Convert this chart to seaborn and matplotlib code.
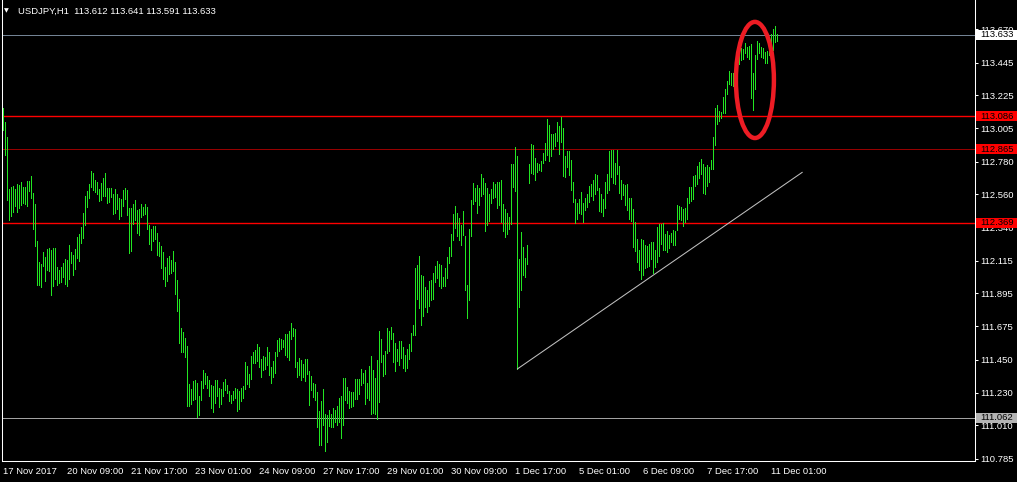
import numpy as np
import pandas as pd
import matplotlib
matplotlib.use("Agg")
import matplotlib.pyplot as plt
import matplotlib.transforms as mtransforms
from matplotlib.patches import Ellipse, Rectangle
import seaborn as sns

# ---------------------------------------------------------------- data
symbol = "USDJPY,H1"
last_ohlc = [113.612, 113.641, 113.591, 113.633]
first_bar_time = "2017-11-17 01:00"
last_bar_time = "2017-12-11 04:00"

bar_high = [
    113.140, 113.047, 112.946, 112.597, 112.610, 112.617, 112.597, 112.630, 112.624, 112.644,
    112.610, 112.610, 112.650, 112.650, 112.684, 112.570, 112.496, 112.247, 112.107, 112.093,
    112.174, 112.140, 112.194, 112.201, 112.187, 112.201, 112.201, 112.073, 112.053, 112.073,
    112.100, 112.127, 112.120, 112.221, 112.174, 112.153, 112.194, 112.274, 112.294, 112.341,
    112.436, 112.550, 112.583, 112.630, 112.717, 112.704, 112.657, 112.644, 112.597, 112.637,
    112.670, 112.704, 112.603, 112.603, 112.603, 112.563, 112.597, 112.563, 112.536, 112.529,
    112.590, 112.603, 112.590, 112.469, 112.469, 112.496, 112.523, 112.456, 112.463, 112.496,
    112.476, 112.496, 112.476, 112.354, 112.328, 112.348, 112.348, 112.301, 112.241, 112.214,
    112.174, 112.073, 112.134, 112.147, 112.120, 112.180, 112.107, 111.986, 111.858, 111.663,
    111.637, 111.596, 111.542, 111.287, 111.254, 111.307, 111.314, 111.294, 111.207, 111.307,
    111.381, 111.361, 111.341, 111.314, 111.280, 111.274, 111.314, 111.314, 111.260, 111.254,
    111.301, 111.321, 111.280, 111.240, 111.213, 111.240, 111.260, 111.254, 111.240, 111.260,
    111.274, 111.435, 111.408, 111.354, 111.475, 111.502, 111.515, 111.556, 111.536, 111.455,
    111.475, 111.468, 111.536, 111.502, 111.401, 111.441, 111.502, 111.583, 111.596, 111.589,
    111.583, 111.623, 111.623, 111.643, 111.697, 111.663, 111.657, 111.435, 111.462, 111.448,
    111.421, 111.455, 111.455, 111.374, 111.341, 111.294, 111.287, 111.233, 111.106, 111.173,
    111.254, 111.086, 111.079, 111.112, 111.086, 111.126, 111.112, 111.140, 111.193, 111.207,
    111.328, 111.328, 111.267, 111.240, 111.233, 111.233, 111.321, 111.321, 111.321, 111.388,
    111.361, 111.381, 111.294, 111.408, 111.475, 111.381, 111.328, 111.448, 111.643, 111.589,
    111.481, 111.509, 111.663, 111.643, 111.670, 111.630, 111.563, 111.522, 111.576, 111.576,
    111.536, 111.481, 111.522, 111.556, 111.630, 111.683, 112.066, 112.086, 112.147, 112.019,
    112.013, 111.939, 111.918, 111.979, 111.986, 112.033, 112.080, 112.113, 112.093, 112.086,
    112.006, 112.066, 112.140, 112.207, 112.294, 112.429, 112.483, 112.436, 112.402, 112.354,
    112.449, 112.281, 111.952, 112.328, 112.523, 112.637, 112.603, 112.624, 112.603, 112.697,
    112.670, 112.637, 112.603, 112.563, 112.597, 112.644, 112.630, 112.644, 112.644, 112.657,
    112.496, 112.463, 112.436, 112.409, 112.765, 112.765, 112.879, 112.818, 112.127, 112.308,
    112.207, 112.134, 112.221, 112.765, 112.899, 112.892, 112.805, 112.771, 112.765, 112.785,
    112.839, 112.906, 113.067, 113.026, 112.966, 112.966, 112.973, 113.047, 113.020, 113.080,
    113.006, 112.818, 112.852, 112.852, 112.791, 112.644, 112.529, 112.503, 112.529, 112.577,
    112.503, 112.536, 112.563, 112.617, 112.630, 112.657, 112.697, 112.691, 112.603, 112.563,
    112.529, 112.644, 112.697, 112.852, 112.859, 112.859, 112.771, 112.859, 112.751, 112.657,
    112.630, 112.624, 112.630, 112.536, 112.536, 112.463, 112.375, 112.261, 112.187, 112.261,
    112.254, 112.221, 112.214, 112.227, 112.241, 112.241, 112.187, 112.341, 112.361, 112.361,
    112.368, 112.294, 112.315, 112.288, 112.301, 112.321, 112.315, 112.490, 112.483, 112.476,
    112.463, 112.469, 112.536, 112.610, 112.610, 112.684, 112.691, 112.751, 112.778, 112.798,
    112.765, 112.745, 112.758, 112.745, 112.791, 112.946, 113.140, 113.160, 113.120, 113.114,
    113.215, 113.268, 113.322, 113.389, 113.376, 113.376, 113.463, 113.517, 113.544, 113.544,
    113.537, 113.577, 113.550, 113.557, 113.570, 113.376, 113.497, 113.591, 113.577, 113.550,
    113.544, 113.517, 113.523, 113.584, 113.638, 113.671, 113.691, 113.641,
]

bar_low = [
    112.993, 112.825, 112.523, 112.388, 112.416, 112.443, 112.483, 112.443, 112.469, 112.490,
    112.503, 112.496, 112.483, 112.583, 112.536, 112.328, 112.214, 111.952, 111.952, 111.939,
    112.080, 111.979, 112.053, 112.046, 111.884, 111.946, 111.993, 111.952, 111.966, 111.973,
    112.006, 111.959, 111.946, 111.993, 112.100, 112.019, 112.060, 112.134, 112.113, 112.234,
    112.268, 112.354, 112.476, 112.536, 112.610, 112.590, 112.577, 112.563, 112.516, 112.523,
    112.550, 112.550, 112.503, 112.509, 112.543, 112.429, 112.436, 112.463, 112.395, 112.416,
    112.483, 112.529, 112.422, 112.167, 112.180, 112.361, 112.388, 112.301, 112.288, 112.409,
    112.422, 112.429, 112.328, 112.227, 112.187, 112.247, 112.261, 112.153, 112.147, 112.066,
    111.993, 111.946, 111.979, 112.026, 112.033, 112.046, 111.891, 111.777, 111.563, 111.502,
    111.502, 111.468, 111.140, 111.140, 111.153, 111.180, 111.187, 111.065, 111.079, 111.180,
    111.260, 111.287, 111.260, 111.207, 111.126, 111.099, 111.160, 111.207, 111.133, 111.153,
    111.207, 111.247, 111.227, 111.173, 111.160, 111.180, 111.193, 111.106, 111.119, 111.173,
    111.193, 111.254, 111.287, 111.267, 111.321, 111.428, 111.428, 111.441, 111.401, 111.334,
    111.381, 111.388, 111.414, 111.347, 111.294, 111.334, 111.361, 111.475, 111.509, 111.522,
    111.536, 111.481, 111.468, 111.448, 111.589, 111.610, 111.401, 111.334, 111.347, 111.314,
    111.334, 111.307, 111.354, 111.146, 111.247, 111.200, 111.180, 110.998, 110.877, 110.877,
    111.011, 110.837, 110.897, 111.005, 110.998, 110.998, 111.032, 111.011, 111.032, 110.924,
    111.011, 111.180, 111.160, 111.126, 111.133, 111.140, 111.187, 111.187, 111.220, 111.280,
    111.294, 111.153, 111.193, 111.180, 111.086, 111.092, 111.086, 111.052, 111.166, 111.435,
    111.341, 111.354, 111.495, 111.509, 111.589, 111.435, 111.374, 111.441, 111.414, 111.462,
    111.394, 111.374, 111.394, 111.455, 111.509, 111.616, 111.616, 111.858, 111.798, 111.683,
    111.744, 111.804, 111.771, 111.811, 111.851, 111.858, 111.973, 111.999, 111.946, 111.932,
    111.946, 111.946, 111.999, 112.100, 112.147, 112.254, 112.335, 112.281, 112.254, 112.221,
    112.288, 111.918, 111.730, 111.851, 112.281, 112.496, 112.516, 112.436, 112.490, 112.550,
    112.563, 112.315, 112.354, 112.382, 112.503, 112.536, 112.543, 112.469, 112.490, 112.375,
    112.315, 112.274, 112.294, 112.328, 112.361, 112.610, 112.583, 111.388, 111.804, 111.918,
    112.019, 112.006, 112.093, 112.637, 112.704, 112.697, 112.657, 112.711, 112.724, 112.717,
    112.771, 112.791, 112.825, 112.785, 112.818, 112.865, 112.886, 112.919, 112.832, 112.912,
    112.684, 112.677, 112.745, 112.691, 112.590, 112.509, 112.368, 112.395, 112.436, 112.429,
    112.375, 112.456, 112.476, 112.509, 112.550, 112.523, 112.563, 112.590, 112.449, 112.443,
    112.416, 112.469, 112.570, 112.590, 112.677, 112.637, 112.630, 112.697, 112.570, 112.529,
    112.556, 112.490, 112.456, 112.395, 112.382, 112.207, 112.180, 112.107, 112.053, 111.993,
    112.019, 112.066, 112.073, 112.080, 112.127, 112.033, 112.073, 112.107, 112.147, 112.227,
    112.187, 112.187, 112.174, 112.201, 112.241, 112.221, 112.221, 112.321, 112.395, 112.388,
    112.348, 112.375, 112.395, 112.503, 112.516, 112.529, 112.617, 112.630, 112.670, 112.697,
    112.570, 112.563, 112.617, 112.644, 112.731, 112.731, 112.892, 113.033, 113.053, 113.073,
    113.107, 113.107, 113.235, 113.302, 113.295, 113.288, 113.342, 113.396, 113.436, 113.463,
    113.470, 113.510, 113.483, 113.470, 113.208, 113.127, 113.268, 113.470, 113.510, 113.483,
    113.476, 113.443, 113.443, 113.497, 113.490, 113.530, 113.584, 113.591,
]

price_ticks = [113.670, 113.445, 113.225, 113.005, 112.780, 112.560, 112.340,
               112.115, 111.895, 111.675, 111.450, 111.230, 111.010, 110.785]
time_label_step = 32

# horizontal levels and their price tags
level_prices = [113.633, 113.086, 112.865, 112.369, 111.062]
level_line_colors = ["#778899", "#ff0000", "#b40000", "#ff0000", "#a8a8a8"]
level_line_widths = [0.7, 1.0, 0.6, 1.0, 0.7]
level_tag_colors = ["#ffffff", "#ff0000", "#ff0000", "#ff0000", "#b4b4b4"]

# trend line (bar index, price) and highlight ellipse
trend_bars = [257, 399.5]
trend_prices = [111.388, 112.709]
ellipse_bar, ellipse_price = 375.8, 113.329
ellipse_bars_wide, ellipse_price_tall = 19.0, 0.78

# ---------------------------------------------------------------- style
sns.set_theme(style="dark", rc={
    "axes.facecolor": "black",
    "figure.facecolor": "black",
    "savefig.facecolor": "black",
    "axes.grid": False,
    "text.color": "white",
    "xtick.color": "white",
    "ytick.color": "white",
})
plt.rcParams["font.family"] = ["Liberation Sans", "DejaVu Sans"]
FS = 6.8

W, H = 1017, 482
fig = plt.figure(figsize=(W / 100, H / 100), dpi=100)
ax = fig.add_axes([2 / W, 21 / H, 972.5 / W, 461 / H])
ax.set_facecolor("black")

times = pd.date_range(first_bar_time, last_bar_time, freq="h")
times = times[times.dayofweek < 5]
assert len(times) == len(bar_high) == len(bar_low)
idx = np.arange(len(times))

# ---------------------------------------------------------------- bars
ax.vlines(idx, bar_low, bar_high, colors="#22e622", linewidth=0.62,
          antialiased=False, zorder=3)

# levels
for p, c, lw in zip(level_prices, level_line_colors, level_line_widths):
    ax.axhline(p, color=c, lw=lw, zorder=2)

# trend line
trend = pd.DataFrame({"bar": trend_bars, "price": trend_prices})
sns.lineplot(data=trend, x="bar", y="price", ax=ax, color="#c0c0c0",
             lw=0.75, legend=False, zorder=4)

# highlight ellipse
ax.add_patch(Ellipse((ellipse_bar, ellipse_price), ellipse_bars_wide,
                     ellipse_price_tall, fill=False, edgecolor="#ed1c24",
                     lw=3.2, zorder=5))

# ---------------------------------------------------------------- axes
ymin, ymax = 110.770, 113.866
ax.set_xlim(-0.67, 485.6)
ax.set_ylim(ymin, ymax)
ax.set_xlabel("")
ax.set_ylabel("")

for side in ("left", "bottom", "right"):
    ax.spines[side].set_visible(True)
    ax.spines[side].set_color("white")
    ax.spines[side].set_linewidth(0.75)
ax.spines["top"].set_visible(False)

ax.yaxis.tick_right()
ax.set_yticks(price_ticks)
ax.set_yticklabels([f"{v:.3f}" for v in price_ticks])
ax.tick_params(axis="y", which="both", direction="out", length=2.2, width=0.75,
               pad=2.2, labelsize=FS, colors="white", left=False, right=True)

tick_pos = idx[::time_label_step]
tick_lab = []
for k, t in zip(tick_pos, times[::time_label_step]):
    if k == 0:
        tick_lab.append(f"{t.day} {t:%b %Y}")
    else:
        tick_lab.append(f"{t.day} {t:%b %H:%M}")
ax.set_xticks(tick_pos)
ax.set_xticklabels(tick_lab, ha="left")
ax.tick_params(axis="x", direction="out", length=3.6, width=0.75, pad=1.0,
               labelsize=FS, colors="white")

# price tags on the right scale, drawn over the tick labels
tag_tr = mtransforms.blended_transform_factory(fig.transFigure, ax.transData)
tag_h = 10 / 461 * (ymax - ymin)
for p, c in zip(level_prices, level_tag_colors):
    fig.add_artist(Rectangle((975.5 / W, p - tag_h / 2), 41.5 / W, tag_h,
                             transform=tag_tr, facecolor=c, edgecolor="none",
                             zorder=5))
    fig.add_artist(plt.Text(980 / W, p, f"{p:.3f}", transform=tag_tr,
                            color="black", fontsize=FS, va="center",
                            ha="left", zorder=6,
                            family=["Liberation Sans", "DejaVu Sans"]))

# header
fig.text(6.5 / W, 1 - 11 / H, "\u25bc", color="white", fontsize=4.5,
         ha="center", va="center", family=["DejaVu Sans"])
fig.text(18 / W, 1 - 11 / H,
         f"{symbol}  " + " ".join(f"{v:.3f}" for v in last_ohlc),
         color="white", fontsize=FS, ha="left", va="center")

fig.savefig("out.png", dpi=100, facecolor="black")
